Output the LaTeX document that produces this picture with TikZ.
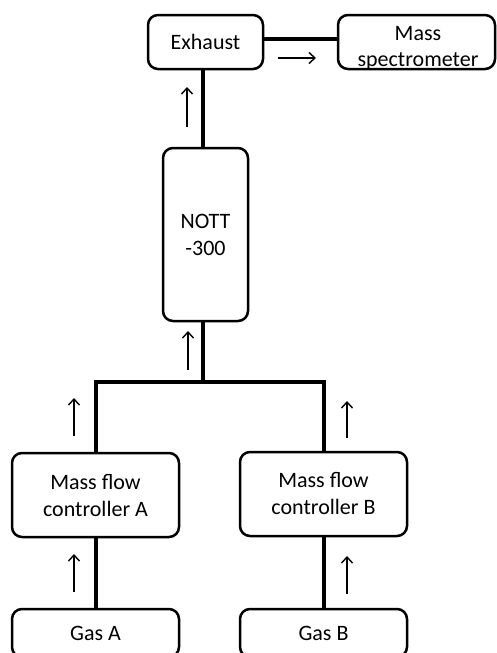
\documentclass[tikz,border=0pt]{standalone}
\usepackage{fontspec}
\setmainfont{Carlito}
\usetikzlibrary{arrows.meta}
\begin{document}
\begin{tikzpicture}[x=1pt,y=-1pt,
  box/.style={draw,line width=2.5pt,rounded corners=10pt,inner sep=0pt,align=center,font=\fontsize{22}{27}\selectfont},
  txt/.style={inner sep=0pt,align=center,font=\fontsize{22}{26}\selectfont},
  pipe/.style={line width=4pt},
  flow/.style={line width=1.4pt,-{Straight Barb[length=6pt,width=11pt,line width=1.4pt]}}]
\useasboundingbox (0,0) rectangle (497,653);
\clip (0,0) rectangle (497,653);
\node[box,minimum width=115pt,minimum height=54pt] (exh) at (205.5,42) {Exhaust};
\node[box,minimum width=157pt,minimum height=54pt] (ms) at (416.5,42) {};
\node[txt] (mstext) at (418,48) {Mass\\spectrometer};
\node[box,minimum width=85pt,minimum height=173pt] (nott) at (205.5,234.5) {NOTT\\-300};
\node[box,minimum width=167pt,minimum height=84pt] (mfcA) at (95.5,495) {Mass flow\\controller A};
\node[box,minimum width=167pt,minimum height=84pt] (mfcB) at (323.5,494) {Mass flow\\controller B};
\node[box,minimum width=167pt,minimum height=48pt] (gasA) at (95.5,633) {Gas A};
\node[box,minimum width=167pt,minimum height=48pt] (gasB) at (323.5,633) {Gas B};
\coordinate (j) at (203,382);
% pipes
\draw[pipe] (exh.east |- 0,39) -- (ms.west |- 0,39);
\draw[pipe] (nott.north -| 203,0) -- (exh.south -| 203,0);
\draw[pipe] (nott.south -| 203,0) -- (j);
\draw[pipe] (mfcA.north) |- (j) -| (mfcB.north);
\draw[pipe] (gasA.north) -- (mfcA.south);
\draw[pipe] (gasB.north) -- (mfcB.south);
% flow arrows
\coordinate (a1s) at (278,58); \coordinate (a1e) at (316,58);
\coordinate (a2s) at (187,127); \coordinate (a2e) at (187,87);
\coordinate (a3s) at (188,370); \coordinate (a3e) at (188,331);
\coordinate (a4s) at (74,436); \coordinate (a4e) at (74,398);
\coordinate (a5s) at (347,438); \coordinate (a5e) at (347,401);
\coordinate (a6s) at (74,592); \coordinate (a6e) at (74,554);
\coordinate (a7s) at (347,594); \coordinate (a7e) at (347,556);
\foreach \i in {1,...,7}{\draw[flow] (a\i s) -- (a\i e);}
\end{tikzpicture}
\end{document}
